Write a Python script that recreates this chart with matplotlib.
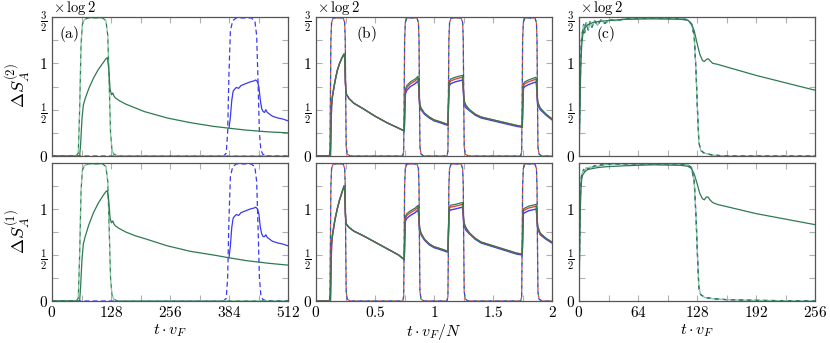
import matplotlib
matplotlib.use("Agg")
import matplotlib.pyplot as plt
from matplotlib.ticker import MultipleLocator

plt.rcParams['mathtext.fontset'] = 'cm'
plt.rcParams['font.family'] = ['DejaVu Serif']

BLUE = '#3a3af2'
RED = '#e2453c'
GREEN = '#2f7a52'
LGREEN = '#86c9a4'

# ---------------- panel (a): t * v_F ----------------
a_dash_t = [0, 52, 57, 60, 63, 66, 70, 78, 110, 117, 121, 124, 127, 130, 134, 142, 512]
a_dash_g = [0, 0.0, 0.03, 0.5, 1.2, 1.42, 1.47, 1.49, 1.49, 1.46, 1.3, 0.8, 0.25, 0.07, 0.02, 0.0, 0]
a_dash_bt = [0, 372, 378, 381, 384, 387, 392, 400, 432, 440, 444, 447, 450, 453, 457, 465, 512]
a_dash_b = [0, 0, 0.03, 0.25, 0.9, 1.35, 1.46, 1.49, 1.49, 1.46, 1.3, 0.8, 0.25, 0.07, 0.02, 0.0, 0]

a_t = [0, 60, 62, 65, 68, 72, 80, 90, 100, 110, 117, 120, 123, 126, 129, 132, 134, 137,
       145, 160, 180, 200, 250, 300, 350, 384, 420, 470, 512]
a_s2_g = [0, 0, 0.12, 0.4, 0.55, 0.62, 0.73, 0.84, 0.93, 1.0, 1.05, 1.06, 0.95, 0.72, 0.66, 0.68, 0.65, 0.63,
          0.6, 0.56, 0.52, 0.48, 0.41, 0.36, 0.32, 0.3, 0.28, 0.26, 0.25]
a_s1_g = [0, 0, 0.15, 0.45, 0.62, 0.7, 0.83, 0.96, 1.06, 1.14, 1.19, 1.2, 1.1, 0.9, 0.85, 0.87, 0.84, 0.82,
          0.79, 0.75, 0.71, 0.68, 0.6, 0.54, 0.5, 0.47, 0.44, 0.41, 0.39]

a_bt = [384, 387, 390, 393, 396, 400, 405, 410, 420, 430, 438, 442, 446, 449, 452, 455, 458, 461,
        464, 467, 470, 478, 490, 500, 512]
a_s2_b = [0.3, 0.42, 0.6, 0.7, 0.72, 0.74, 0.73, 0.76, 0.78, 0.8, 0.81, 0.82, 0.8, 0.74, 0.6, 0.51, 0.48, 0.47,
          0.5, 0.47, 0.46, 0.43, 0.41, 0.4, 0.38]
a_s1_b = [0.47, 0.6, 0.8, 0.9, 0.92, 0.94, 0.93, 0.96, 0.98, 1.0, 1.01, 1.02, 1.0, 0.94, 0.8, 0.73, 0.7, 0.7,
          0.72, 0.69, 0.68, 0.65, 0.63, 0.62, 0.6]

# ---------------- panel (b): t * v_F / N ----------------
b_dash_t = [0, 0.112, 0.118, 0.122, 0.126, 0.132, 0.145, 0.23, 0.243, 0.248, 0.252, 0.256, 0.265, 0.29,
            0.735, 0.743, 0.747, 0.751, 0.757, 0.77, 0.855, 0.868, 0.873, 0.877, 0.881, 0.89, 0.915,
            1.11, 1.118, 1.122, 1.126, 1.132, 1.145, 1.23, 1.243, 1.248, 1.252, 1.256, 1.265, 1.29,
            1.735, 1.743, 1.747, 1.751, 1.757, 1.77, 1.855, 1.868, 1.873, 1.877, 1.881, 1.89, 1.915, 2.0]
b_dash = [0, 0, 0.05, 0.6, 1.25, 1.44, 1.49, 1.49, 1.44, 1.25, 0.6, 0.1, 0.02, 0,
          0, 0.05, 0.6, 1.25, 1.44, 1.49, 1.49, 1.44, 1.25, 0.6, 0.1, 0.02, 0,
          0, 0.05, 0.6, 1.25, 1.44, 1.49, 1.49, 1.44, 1.25, 0.6, 0.1, 0.02, 0,
          0, 0.05, 0.6, 1.25, 1.44, 1.49, 1.49, 1.44, 1.25, 0.6, 0.1, 0.02, 0, 0]

b_t = [0, 0.122, 0.127, 0.132, 0.14, 0.16, 0.18, 0.2, 0.22, 0.238, 0.244, 0.249, 0.254, 0.26, 0.28, 0.32,
       0.4, 0.5, 0.6, 0.7, 0.748,
       0.752, 0.758, 0.77, 0.8, 0.84, 0.865, 0.87, 0.875, 0.88, 0.89, 0.92, 0.96, 1.0, 1.05, 1.118,
       1.122, 1.128, 1.14, 1.18, 1.24, 1.245, 1.25, 1.255, 1.27, 1.3, 1.35, 1.4, 1.5, 1.6, 1.7, 1.748,
       1.752, 1.758, 1.77, 1.8, 1.865, 1.87, 1.875, 1.88, 1.9, 1.95, 2.0]
b_s2_g = [0, 0, 0.3, 0.55, 0.65, 0.8, 0.92, 1.0, 1.06, 1.1, 1.05, 0.8, 0.68, 0.66, 0.62, 0.57,
          0.51, 0.43, 0.36, 0.3, 0.27,
          0.5, 0.72, 0.76, 0.8, 0.83, 0.86, 0.8, 0.65, 0.56, 0.52, 0.46, 0.42, 0.39, 0.37, 0.34,
          0.55, 0.8, 0.83, 0.85, 0.87, 0.83, 0.7, 0.6, 0.55, 0.5, 0.45, 0.42, 0.39, 0.36, 0.33, 0.32,
          0.55, 0.78, 0.8, 0.82, 0.85, 0.8, 0.65, 0.58, 0.52, 0.45, 0.4]
b_s2_r = [0, 0, 0.3, 0.55, 0.65, 0.8, 0.92, 1.0, 1.06, 1.1, 1.05, 0.8, 0.68, 0.66, 0.62, 0.57,
          0.51, 0.43, 0.36, 0.3, 0.27,
          0.48, 0.7, 0.74, 0.78, 0.81, 0.84, 0.78, 0.63, 0.55, 0.51, 0.46, 0.42, 0.39, 0.37, 0.34,
          0.53, 0.78, 0.81, 0.83, 0.85, 0.81, 0.69, 0.59, 0.54, 0.5, 0.45, 0.42, 0.39, 0.36, 0.33, 0.32,
          0.53, 0.76, 0.78, 0.8, 0.83, 0.78, 0.63, 0.57, 0.51, 0.45, 0.4]
b_s2_b = [0, 0, 0.3, 0.55, 0.65, 0.8, 0.92, 1.0, 1.06, 1.1, 1.05, 0.8, 0.68, 0.66, 0.62, 0.57,
          0.51, 0.43, 0.36, 0.3, 0.27,
          0.45, 0.67, 0.71, 0.75, 0.78, 0.81, 0.74, 0.6, 0.53, 0.5, 0.45, 0.41, 0.38, 0.36, 0.33,
          0.5, 0.75, 0.78, 0.8, 0.82, 0.78, 0.66, 0.57, 0.52, 0.49, 0.44, 0.41, 0.38, 0.35, 0.32, 0.31,
          0.5, 0.73, 0.75, 0.77, 0.8, 0.74, 0.6, 0.55, 0.5, 0.44, 0.39]

b_s1_g = [0, 0, 0.35, 0.62, 0.72, 0.88, 1.0, 1.1, 1.18, 1.25, 1.2, 0.95, 0.85, 0.83, 0.8, 0.76,
          0.71, 0.64, 0.57, 0.5, 0.45,
          0.7, 0.92, 0.95, 0.98, 1.01, 1.04, 0.98, 0.85, 0.79, 0.74, 0.67, 0.62, 0.59, 0.57, 0.54,
          0.75, 1.02, 1.04, 1.05, 1.07, 1.03, 0.92, 0.85, 0.8, 0.74, 0.68, 0.64, 0.6, 0.56, 0.52, 0.51,
          0.75, 1.0, 1.01, 1.03, 1.05, 1.0, 0.88, 0.81, 0.74, 0.68, 0.64]
b_s1_r = [0, 0, 0.35, 0.62, 0.72, 0.88, 1.0, 1.1, 1.18, 1.25, 1.2, 0.95, 0.85, 0.83, 0.8, 0.76,
          0.71, 0.64, 0.57, 0.5, 0.45,
          0.68, 0.9, 0.93, 0.96, 0.99, 1.02, 0.96, 0.83, 0.78, 0.73, 0.67, 0.62, 0.59, 0.57, 0.54,
          0.73, 1.0, 1.02, 1.03, 1.05, 1.01, 0.9, 0.84, 0.79, 0.74, 0.68, 0.64, 0.6, 0.56, 0.52, 0.51,
          0.73, 0.98, 0.99, 1.01, 1.03, 0.98, 0.86, 0.8, 0.73, 0.68, 0.64]
b_s1_b = [0, 0, 0.35, 0.62, 0.72, 0.88, 1.0, 1.1, 1.18, 1.25, 1.2, 0.95, 0.85, 0.83, 0.8, 0.76,
          0.71, 0.64, 0.57, 0.5, 0.45,
          0.65, 0.87, 0.9, 0.93, 0.96, 0.99, 0.92, 0.8, 0.76, 0.72, 0.66, 0.61, 0.58, 0.56, 0.53,
          0.7, 0.97, 0.99, 1.0, 1.02, 0.97, 0.87, 0.82, 0.77, 0.73, 0.67, 0.63, 0.59, 0.55, 0.51, 0.5,
          0.7, 0.95, 0.96, 0.98, 1.0, 0.94, 0.83, 0.78, 0.72, 0.67, 0.63]

# ---------------- panel (c): t * v_F ----------------
c_dash_t = [0, 1, 2, 3, 4, 5, 6, 8, 10, 12, 14, 17, 20, 24, 28, 33, 40, 50, 80, 110, 118, 122, 125,
            127, 128.5, 130, 132, 136, 145, 160, 190, 256]
c_s2_dash = [0, 0.6, 1.1, 1.3, 1.35, 1.42, 1.33, 1.44, 1.36, 1.45, 1.39, 1.46, 1.41, 1.47, 1.43, 1.47,
             1.46, 1.48, 1.49, 1.485, 1.47, 1.42, 1.3, 0.9, 0.5, 0.15, 0.06, 0.03, 0.01, 0.0, 0.0, 0]
c_s1_dash = [0, 0.9, 1.3, 1.38, 1.4, 1.43, 1.41, 1.45, 1.43, 1.46, 1.45, 1.47, 1.46, 1.48, 1.48, 1.49,
             1.49, 1.49, 1.49, 1.49, 1.48, 1.45, 1.3, 0.9, 0.5, 0.15, 0.07, 0.04, 0.025, 0.015, 0.007, 0]

c_t = [0, 1, 2, 3, 4, 6, 8, 10, 15, 20, 30, 50, 80, 110, 118, 122, 125, 128, 131, 134, 136, 138, 140,
       142, 145, 150, 192, 256]
c_s2 = [0, 0.5, 1.0, 1.2, 1.3, 1.38, 1.4, 1.42, 1.44, 1.45, 1.46, 1.475, 1.48, 1.475, 1.465, 1.43,
        1.35, 1.22, 1.1, 1.03, 1.02, 1.04, 1.05, 1.03, 1.0, 0.99, 0.87, 0.71]
c_s1 = [0, 0.8, 1.2, 1.33, 1.37, 1.4, 1.42, 1.43, 1.44, 1.45, 1.46, 1.47, 1.48, 1.475, 1.465, 1.44,
        1.38, 1.28, 1.17, 1.11, 1.1, 1.13, 1.13, 1.1, 1.07, 1.05, 0.95, 0.83]

xt_a = [0, 128, 256, 384, 512]
xt_b = [0, 0.5, 1, 1.5, 2]
xt_c = [0, 64, 128, 192, 256]

ylab_top = r'$\Delta S_A^{(2)}$'
ylab_bot = r'$\Delta S_A^{(1)}$'

fig = plt.figure(figsize=(8.3, 3.43), dpi=100)
W, H = 830.0, 343.0
lefts = [52, 316, 579]
width = 236
rows = [(17, 156), (163, 301)]

dash = (0, (4, 2.5))
dash2 = (3.2, (4, 2.5))


def style_axes(ax, xticks, minor, bottom):
    ax.set_xlim(xticks[0], xticks[-1])
    ax.set_ylim(0, 1.5)
    ax.set_xticks(xticks)
    ax.set_xticklabels([r'$%g$' % v for v in xticks])
    ax.xaxis.set_minor_locator(MultipleLocator(minor))
    ax.yaxis.set_minor_locator(MultipleLocator(0.25))
    ax.tick_params(which='both', direction='in', top=True, right=True,
                   color='#b0b0b0', length=4, width=0.8, labelsize=11, pad=3)
    for s in ax.spines.values():
        s.set_color('#555555')
        s.set_linewidth(0.9)
    ax.set_yticks([0, 0.5, 1, 1.5])
    if bottom:
        ax.set_yticklabels([r'$0$', r'$\frac{1}{2}$', r'$1$', ''])
    else:
        ax.set_yticklabels([r'$0$', r'$\frac{1}{2}$', r'$1$', r'$\frac{3}{2}$'])
        ax.tick_params(axis='x', labelbottom=False)
        ax.text(0.005, 1.0, r'$\times\,\log 2$', transform=ax.transAxes,
                ha='left', va='bottom', fontsize=10.5)


axes = {}
for r, (top, bot) in enumerate(rows):
    for c, l in enumerate(lefts):
        ax = fig.add_axes([l / W, 1 - bot / H, width / W, (bot - top) / H])
        axes[(r, c)] = ax

# panel (a)
for r, (sg, sb) in enumerate([(a_s2_g, a_s2_b), (a_s1_g, a_s1_b)]):
    ax = axes[(r, 0)]
    ax.plot(a_dash_bt, a_dash_b, color=BLUE, lw=0.9, ls=dash)
    ax.plot(a_dash_t, a_dash_g, color=GREEN, lw=0.9, ls=dash)
    ax.plot(a_dash_t, a_dash_g, color=LGREEN, lw=0.9, ls=dash2)
    ax.plot(a_bt, sb, color=BLUE, lw=0.9)
    ax.plot(a_t, sg, color=GREEN, lw=0.9)
    style_axes(ax, xt_a, 64, r == 1)

# panel (b)
for r, (sg, sr, sb) in enumerate([(b_s2_g, b_s2_r, b_s2_b), (b_s1_g, b_s1_r, b_s1_b)]):
    ax = axes[(r, 1)]
    ax.plot(b_dash_t, b_dash, color=BLUE, lw=0.9, ls=(0, (3, 3)))
    ax.plot(b_dash_t, b_dash, color=RED, lw=0.9, ls=(2, (2, 4)))
    ax.plot(b_dash_t, b_dash, color=GREEN, lw=0.9, ls=(4, (2, 4)))
    ax.plot(b_t, sb, color=BLUE, lw=1.0)
    ax.plot(b_t, sr, color=RED, lw=1.0)
    ax.plot(b_t, sg, color=GREEN, lw=0.9)
    style_axes(ax, xt_b, 0.25, r == 1)

# panel (c)
for r, (sd, ss) in enumerate([(c_s2_dash, c_s2), (c_s1_dash, c_s1)]):
    ax = axes[(r, 2)]
    ax.plot(c_dash_t, sd, color=BLUE, lw=0.9, ls=dash)
    ax.plot(c_dash_t, sd, color=GREEN, lw=0.9, ls=dash)
    ax.plot(c_dash_t, sd, color=LGREEN, lw=0.9, ls=dash2)
    ax.plot(c_t, ss, color=GREEN, lw=0.9)
    style_axes(ax, xt_c, 32, r == 1)

axes[(0, 0)].text(0.03, 0.95, r'$\mathrm{(a)}$', transform=axes[(0, 0)].transAxes,
                  ha='left', va='top', fontsize=11)
axes[(0, 1)].text(0.17, 0.95, r'$\mathrm{(b)}$', transform=axes[(0, 1)].transAxes,
                  ha='left', va='top', fontsize=11)
axes[(0, 2)].text(0.07, 0.95, r'$\mathrm{(c)}$', transform=axes[(0, 2)].transAxes,
                  ha='left', va='top', fontsize=11)

axes[(1, 0)].set_xlabel(r'$t\cdot v_F$', fontsize=11.5, labelpad=1)
axes[(1, 1)].set_xlabel(r'$t\cdot v_F/N$', fontsize=11.5, labelpad=1)
axes[(1, 2)].set_xlabel(r'$t\cdot v_F$', fontsize=11.5, labelpad=1)

fig.text(18 / W, 1 - 86 / H, ylab_top, rotation=90, ha='center', va='center', fontsize=13)
fig.text(18 / W, 1 - 232 / H, ylab_bot, rotation=90, ha='center', va='center', fontsize=13)

fig.savefig('out.png', dpi=100)
